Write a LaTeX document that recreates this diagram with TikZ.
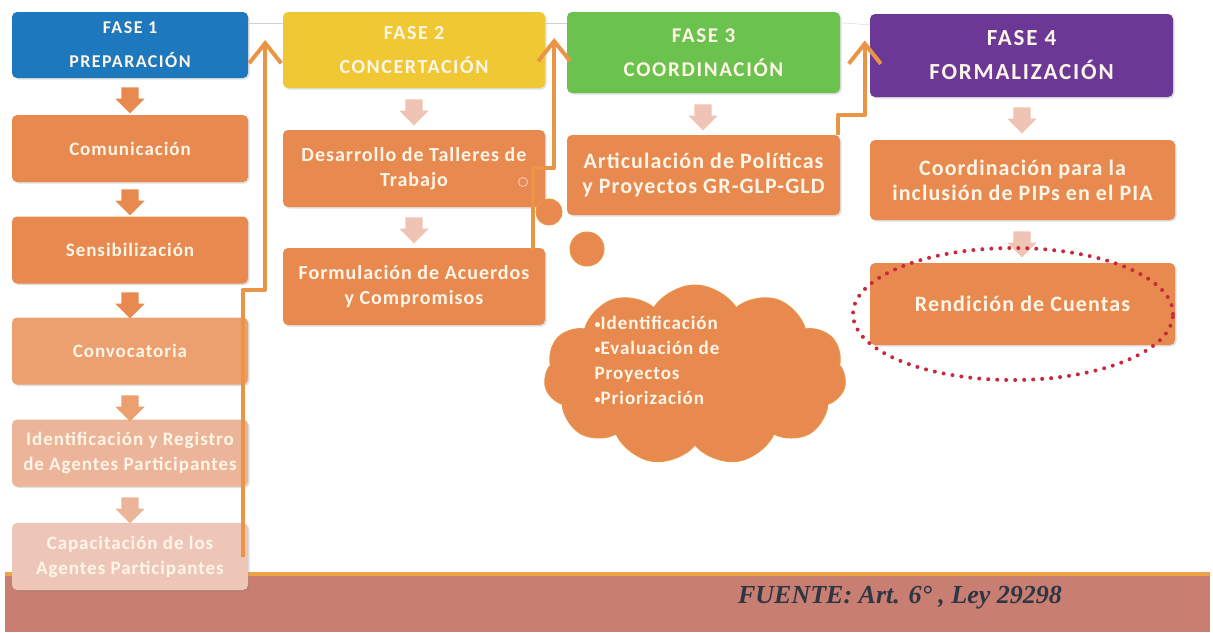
\documentclass[tikz,border=0pt]{standalone}
\usepackage{fontspec}
\setmainfont{Carlito}
\newfontfamily\cajafont[LetterSpace=5]{Carlito}
\newfontfamily\fasefont[LetterSpace=8]{Carlito}
\newfontfamily\fuentefont{Liberation Serif}
\usetikzlibrary{shapes.arrows,shapes.symbols,shapes.geometric,arrows.meta,shadows}
\definecolor{azul}{RGB}{30,120,190}
\definecolor{amarillo}{RGB}{240,200,52}
\definecolor{verde}{RGB}{108,194,78}
\definecolor{morado}{RGB}{108,56,150}
\definecolor{naranja}{RGB}{232,138,80}
\definecolor{naranjab}{RGB}{236,160,112}
\definecolor{salmon}{RGB}{236,180,152}
\definecolor{rosado}{RGB}{238,198,184}
\definecolor{naranjaf}{RGB}{234,148,70}
\definecolor{rosa}{RGB}{240,196,180}
\definecolor{crema}{RGB}{255,246,232}
\definecolor{pie}{RGB}{200,126,112}
\definecolor{franja}{RGB}{240,162,72}
\definecolor{rojo}{RGB}{200,42,60}
\definecolor{tinta}{RGB}{46,54,70}

\newcommand{\vineta}{{\fontsize{12}{12}\selectfont\raisebox{1pt}{•}}}

\begin{document}
\begin{tikzpicture}[x=1pt,y=-1pt]
\tikzset{
    caja/.style={rectangle, rounded corners=5pt, fill=naranja, text=crema, align=center,
        font=\cajafont\bfseries\fontsize{#1}{25}\selectfont,
        drop shadow={opacity=0.25,shadow xshift=1.5pt,shadow yshift=-1.5pt}},
    fase/.style={caja=#1, font=\fasefont\bfseries\fontsize{#1}{34}\selectfont},
    bajar/.style={single arrow, shape border rotate=270, inner sep=8.5pt,
        single arrow head extend=6pt, minimum height=25pt, fill=#1, draw=none},
    subir/.style={line width=4pt, draw=naranjaf, line join=round,
        -{Straight Barb[length=20pt,width=32pt]}},
    burbuja/.style={circle, fill=naranja, draw=naranjaf, line width=1pt, inner sep=0pt, minimum size=#1}
}
\useasboundingbox (0,0) rectangle (1213,632);

\node[fill=pie, minimum width=1205pt, minimum height=58pt, anchor=north west, inner sep=0pt] (pie) at (5,574) {};
\draw[franja, line width=4pt] (pie.north west) -- (pie.north east);
\node[font=\fuentefont\bfseries\itshape\fontsize{26}{30}\selectfont, text=tinta] (fuente) at (900,598) {FUENTE: Art. 6° , Ley 29298};

\node[fase=18, fill=azul, minimum width=236pt, minimum height=66pt] (fasea) at (130,45) {FASE 1\\PREPARACIÓN};
\node[fase=20, fill=amarillo, minimum width=262pt, minimum height=76pt] (faseb) at (414,50) {FASE 2\\CONCERTACIÓN};
\node[fase=21, fill=verde, minimum width=273pt, minimum height=81pt] (fasec) at (703.5,52.5) {FASE 3\\COORDINACIÓN};
\node[fase=23, fill=morado, minimum width=303pt, minimum height=83pt] (fased) at (1021.5,55.5) {FASE 4\\FORMALIZACIÓN};

\draw[gray!35] ([yshift=-11pt]fasea.north east) -- ([yshift=-11pt]faseb.north west);
\draw[gray!35] ([yshift=-11pt]faseb.north east) -- ([yshift=-11pt]fasec.north west);
\draw[gray!35] ([yshift=-11pt]fasec.north east) -- ([yshift=-11pt]fased.north west);

\node[caja=19, minimum width=236pt, minimum height=67pt] (comu) at (130,148.5) {Comunicación};
\node[caja=19, minimum width=236pt, minimum height=67pt] (sens) at (130,250) {Sensibilización};
\node[caja=19, fill=naranjab, minimum width=236pt, minimum height=67pt] (conv) at (130,351) {Convocatoria};
\node[caja=19, fill=salmon, minimum width=236pt, minimum height=67pt] (iden) at (130,453) {Identificación y Registro\\de Agentes Participantes};
\node[caja=19, fill=rosado, minimum width=236pt, minimum height=67pt] (capa) at (130,556.5) {Capacitación de los\\Agentes Participantes};

\node[caja=20, minimum width=262pt, minimum height=77pt] (desa) at (414,168.5) {Desarrollo de Talleres de\\Trabajo};
\node[caja=20, minimum width=262pt, minimum height=77pt] (form) at (414,286.5) {Formulación de Acuerdos\\y Compromisos};
\node[caja=22, minimum width=273pt, minimum height=80pt] (arti) at (703.5,175) {Articulación de Políticas\\y Proyectos GR-GLP-GLD};
\node[caja=22, minimum width=305pt, minimum height=80pt] (coor) at (1022.5,180) {Coordinación para la\\inclusión de PIPs en el PIA};
\node[caja=22, minimum width=305pt, minimum height=82pt] (rend) at (1022.5,304) {Rendición de Cuentas};

\node[bajar=naranja] (fa1) at (130,96) {};
\node[bajar=naranja] (fa2) at (130,198) {};
\node[bajar=naranja] (fa3) at (130,301) {};
\node[bajar=naranjab] (fa4) at (130,404) {};
\node[bajar=salmon] (fa5) at (130,506) {};
\node[bajar=rosa] (fb1) at (414,108) {};
\node[bajar=rosa] (fb2) at (414,226) {};
\node[bajar=rosa] (fc1) at (703,113) {};
\node[bajar=rosa] (fd1) at (1022,116) {};
\node[bajar=rosa] (fd2) at (1022,240) {};

\draw[subir] ([xshift=-5pt]capa.east) -- ++(0,-267) -| ([xshift=17pt,yshift=5pt]fasea.east);
\draw[subir] ([xshift=-12pt,yshift=-2pt]form.north east) -- ++(0,-82) -| ([xshift=9pt,yshift=12pt]faseb.east);
\draw[subir] ([xshift=-2pt]arti.north east) -- ++(0,-20) -| ([xshift=-5pt,yshift=15pt]fased.west);

\node[burbuja=9pt, draw=rosa] (pa) at (523,182) {};
\node[burbuja=26pt] (pb) at (549,212) {};
\node[burbuja=34pt] (pc) at (587,249) {};
\node[cloud, cloud puffs=11, cloud puff arc=115, aspect=1.7, fill=naranja, draw=naranjaf, line width=1pt,
    minimum width=302pt, minimum height=180pt] (nube) at (695,375) {};
\node[text=crema, align=left, font=\cajafont\bfseries\fontsize{19}{25}\selectfont] (lista) at (657,360)
    {\vineta Identificación\\\vineta Evaluación de\\Proyectos\\\vineta Priorización};

\node[ellipse, draw=rojo, line width=4pt, line cap=round, dash pattern=on 0pt off 9pt,
    minimum width=320pt, minimum height=132pt] (marca) at (1013,314) {};
\end{tikzpicture}
\end{document}
